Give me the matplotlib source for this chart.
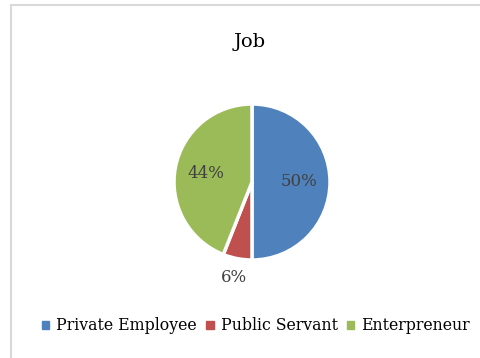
import matplotlib.pyplot as plt
from matplotlib.patches import Rectangle
import numpy as np

labels = ["Private Employee", "Public Servant", "Enterpreneur"]
values = [50, 6, 44]
colors = ["#4F81BD", "#C0504D", "#9BBB59"]

fig = plt.figure(figsize=(4.8, 3.58), dpi=100)
fig.patch.set_facecolor("white")

# chart border
fig.patches.append(Rectangle((11 / 480, -0.01), 1.0, 1 - 5 / 358 + 0.01,
                             transform=fig.transFigure, fill=False,
                             edgecolor="#D9D9D9", linewidth=1.5))

ax = fig.add_axes([(252 - 78) / 480, (358 - 260) / 358, 156 / 480, 156 / 358])
wedges, texts, autotexts = ax.pie(values, colors=colors, startangle=90, counterclock=False,
                                  autopct="%d%%", pctdistance=0.6,
                                  wedgeprops=dict(edgecolor="white", linewidth=2.5),
                                  textprops=dict(color="#404040", fontsize=12,
                                                 family="DejaVu Serif"))
ax.set_aspect("equal")
ax.set_xlim(-1, 1)
ax.set_ylim(-1, 1)
ax.set_clip_on(False)
for w in wedges:
    w.set_clip_on(False)

# small slice label outside
w = wedges[1]
mid = np.deg2rad((w.theta1 + w.theta2) / 2)
autotexts[1].set_position((1.24 * np.cos(mid), 1.24 * np.sin(mid)))
autotexts[1].set_clip_on(False)

fig.text(250 / 480, 1 - 42 / 358, "Job", ha="center", va="center",
         fontsize=14, family="DejaVu Serif", color="black")

handles = [Rectangle((0, 0), 1, 1, color=c) for c in colors]
fig.legend(handles, labels, loc="center", bbox_to_anchor=(256 / 480, 1 - 326 / 358),
           ncol=3, frameon=False, handlelength=0.45, handleheight=0.45,
           handletextpad=0.45, columnspacing=0.6,
           prop=dict(family="DejaVu Serif", size=11.3))

fig.savefig("out.png", dpi=100, facecolor="white")
